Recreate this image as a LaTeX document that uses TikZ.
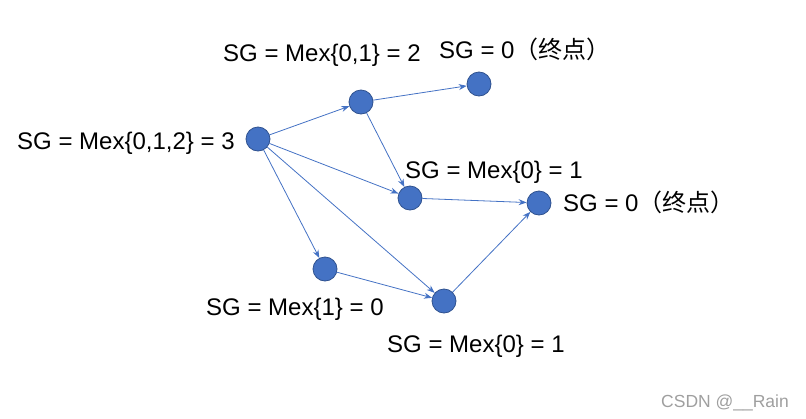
\documentclass[tikz,border=0pt]{standalone}
\usepackage{fontspec}
\setmainfont{Liberation Sans}
\newfontfamily\cjk{Noto Sans CJK SC}
\usetikzlibrary{arrows.meta}
\definecolor{nodefill}{HTML}{4472C4}
\definecolor{nodeborder}{HTML}{2F528F}
\definecolor{edgecol}{HTML}{4472C4}
\tikzset{
  vtx/.style={circle, fill=nodefill, draw=nodeborder, line width=0.8pt, minimum size=24pt, inner sep=0pt},
  edge/.style={draw=edgecol, line width=0.8pt, -{Stealth[length=8pt,width=6pt]}},
  lbl/.style={anchor=base west, inner sep=0pt, font=\fontsize{24}{28}\selectfont},
  wm/.style={anchor=base west, inner sep=0pt, text=gray!75, font=\fontsize{17.5}{20}\selectfont}
}
\begin{document}
\begin{tikzpicture}[x=1pt,y=-1pt]
\useasboundingbox (0,0) rectangle (806,418);
\node[vtx] (A) at (258,139) {};
\node[vtx] (B) at (361,102) {};
\node[vtx] (C) at (479,84) {};
\node[vtx] (D) at (410,198) {};
\node[vtx] (E) at (539,203) {};
\node[vtx] (F) at (325,269) {};
\node[vtx] (G) at (444,301) {};
\draw[edge] (A) -- (B);
\draw[edge] (B) -- (C);
\draw[edge] (A) -- (D);
\draw[edge] (B) -- (D);
\draw[edge] (D) -- (E);
\draw[edge] (A) -- (F);
\draw[edge] (A) -- (G);
\draw[edge] (F) -- (G);
\draw[edge] (G) -- (E);
\node[lbl] (LA) at (17,149.5) {SG = Mex\{0,1,2\} = 3};
\node[lbl] (LB) at (223,61) {SG = Mex\{0,1\} = 2};
\node[lbl] (LC) at (439,58) {SG = 0{\cjk（终点）}};
\node[lbl] (LD) at (405,178.5) {SG = Mex\{0\} = 1};
\node[lbl] (LE) at (563,211.5) {SG = 0{\cjk（终点）}};
\node[lbl] (LF) at (206,315.5) {SG = Mex\{1\} = 0};
\node[lbl] (LG) at (387,352) {SG = Mex\{0\} = 1};
\node[wm] (W) at (661,407) {CSDN @\_\_Rain};
\end{tikzpicture}
\end{document}
